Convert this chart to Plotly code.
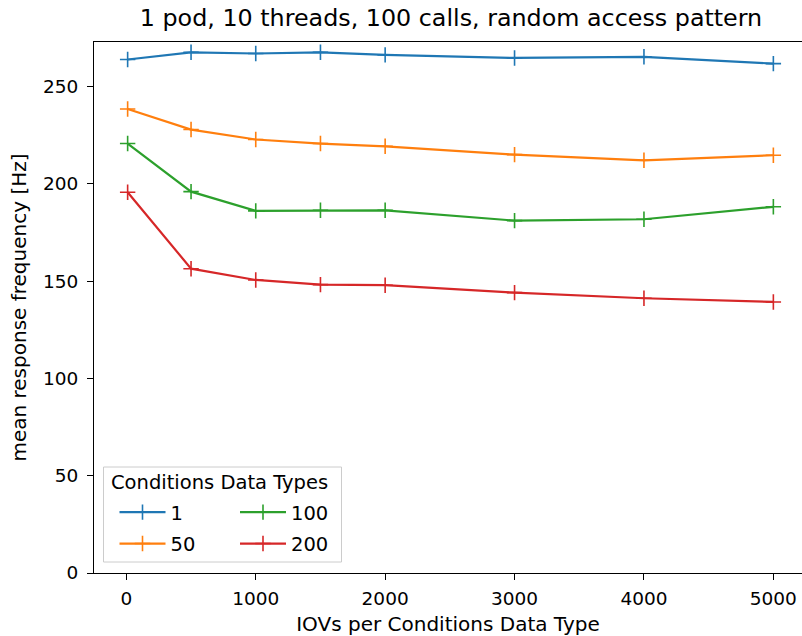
import plotly.graph_objects as go

iovs = [10, 500, 1000, 1500, 2000, 3000, 4000, 5000]
series_names = ["1", "50", "100", "200"]
freq_1 = [263.9, 267.6, 267.0, 267.6, 266.3, 264.7, 265.3, 261.8]
freq_50 = [238.5, 227.9, 222.8, 220.7, 219.3, 215.0, 212.1, 214.7]
freq_100 = [220.7, 196.0, 186.1, 186.4, 186.4, 181.1, 181.8, 188.2]
freq_200 = [195.7, 156.4, 150.6, 148.2, 147.9, 144.1, 141.2, 139.3]
colors = ["#1f77b4", "#ff7f0e", "#2ca02c", "#d62728"]
legend_ids = ["legend", "legend", "legend2", "legend2"]

W, H = 802, 636
L, R, T, B = 94, 0, 42, 63
PW, PH = W - L - R, H - T - B
font = "DejaVu Sans"
TICK = 18.5
LAB = 20
LEG = 19.5


def px_x(p):
    return (p - L) / PW


def px_y(p):
    return (H - B - p) / PH


fig = go.Figure()
for name, vals, c, lg in zip(series_names, [freq_1, freq_50, freq_100, freq_200], colors, legend_ids):
    fig.add_trace(go.Scatter(
        x=iovs, y=vals, name=name, mode="lines+markers",
        line=dict(color=c, width=2.2),
        marker=dict(symbol="cross-thin", size=11, line=dict(color=c, width=1.6)),
        legend=lg, legendgroup=name,
    ))

leg_common = dict(
    orientation="v", bgcolor="rgba(0,0,0,0)", borderwidth=0,
    font=dict(size=LEG, family=font, color="#000000"),
    xanchor="left", yanchor="top", tracegroupgap=3, itemwidth=46,
)

fig.update_layout(
    width=W, height=H,
    margin=dict(l=L, r=R, t=T, b=B, pad=0),
    paper_bgcolor="white", plot_bgcolor="white",
    font=dict(family=font, size=TICK, color="#000000"),
    title=dict(text="1 pod, 10 threads, 100 calls, random access pattern",
               x=451 / W, xanchor="center", xref="container",
               y=1 - 18 / H, yanchor="middle", yref="container",
               font=dict(size=23.8, family=font, color="#000000")),
    showlegend=True,
    legend=dict(x=px_x(114.5), y=px_y(493), **leg_common),
    legend2=dict(x=px_x(235), y=px_y(493), **leg_common),
    shapes=[dict(type="rect", xref="paper", yref="paper",
                 x0=px_x(103.5), x1=px_x(341.5), y0=px_y(562), y1=px_y(467),
                 line=dict(color="#cccccc", width=1), fillcolor="rgba(255,255,255,0.8)",
                 layer="above")],
    annotations=[dict(text="Conditions Data Types", xref="paper", yref="paper",
                      x=px_x(109), y=px_y(482), xanchor="left", yanchor="middle",
                      showarrow=False, font=dict(size=LEG, family=font, color="#000000"))],
    xaxis=dict(
        range=[-250, (802 - 125) / ((773.3 - 125) / 5000)],
        tickvals=[0, 1000, 2000, 3000, 4000, 5000],
        ticks="outside", ticklen=6, tickwidth=1, tickcolor="black",
        tickfont=dict(size=TICK), ticklabelstandoff=3,
        showline=True, linecolor="black", linewidth=1.2, mirror=True,
        showgrid=False, zeroline=False,
        title=dict(text="IOVs per Conditions Data Type", standoff=8, font=dict(size=LAB)),
    ),
    yaxis=dict(
        range=[0, 272.9],
        tickvals=[0, 50, 100, 150, 200, 250],
        ticks="outside", ticklen=6, tickwidth=1, tickcolor="black",
        tickfont=dict(size=TICK), ticklabelstandoff=5,
        showline=True, linecolor="black", linewidth=1.2, mirror=False,
        showgrid=False, zeroline=False,
        title=dict(text="mean response frequency [Hz]", standoff=10, font=dict(size=LAB)),
    ),
)

fig.write_html("out.html")
